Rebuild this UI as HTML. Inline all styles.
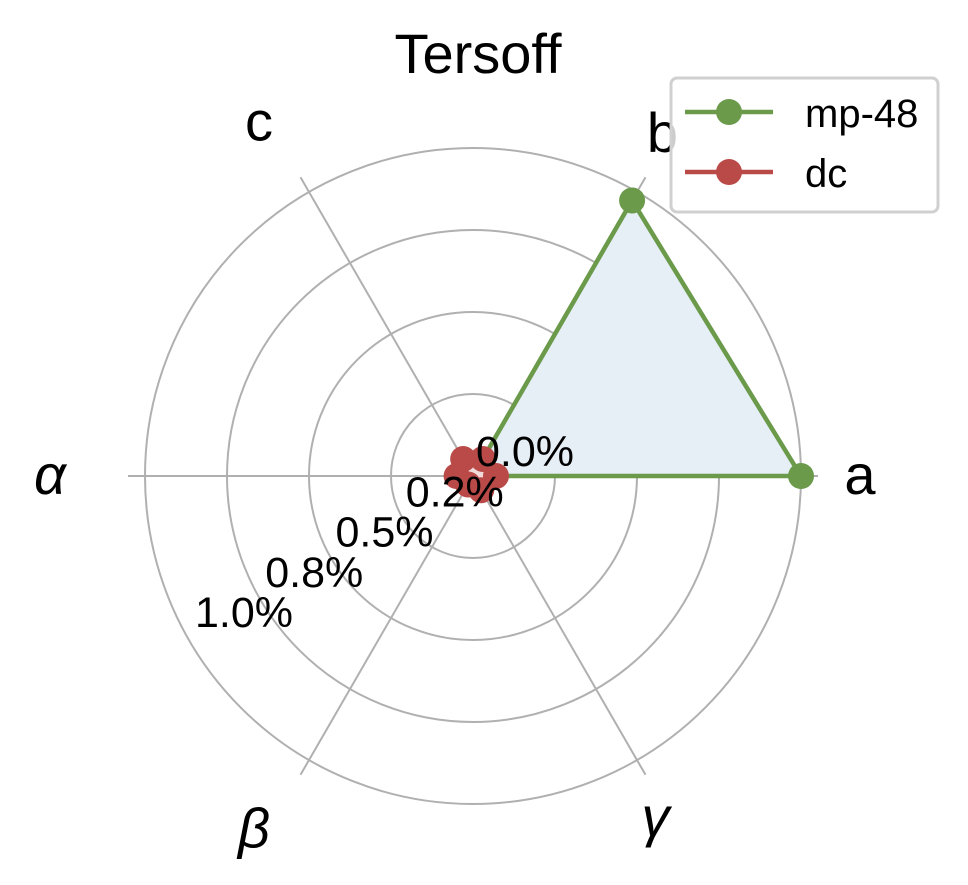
<!DOCTYPE html>
<html><head><meta charset="utf-8"><style>
html,body{margin:0;padding:0;background:#fff;}
svg{display:block;font-family:"Liberation Sans","DejaVu Sans",sans-serif;}
</style></head><body>
<svg id="chart" width="968" height="885" viewBox="0 0 968 885">
<text x="478" y="73" font-size="56" text-anchor="middle">Tersoff</text>
<g id="grid"></g><g id="series"></g><g id="labels"></g>
<g>
<rect x="671" y="78" width="267" height="134" rx="6" fill="#fff" fill-opacity="0.8" stroke="#d0d0d0" stroke-width="3"/>
<line x1="685" y1="112" x2="773" y2="112" stroke="#6a9a4a" stroke-width="4.5"/>
<circle cx="729" cy="112" r="13" fill="#6a9a4a"/>
<text x="805" y="127" font-size="40">mp-48</text>
<line x1="685" y1="172" x2="773" y2="172" stroke="#b94a48" stroke-width="4.5"/>
<circle cx="729" cy="172" r="13" fill="#b94a48"/>
<text x="805" y="187" font-size="40">dc</text>
</g>
</svg>
<script>
const categories = ["a","b","c","\u03b1","\u03b2","\u03b3"];
const mp48Values = [1.0, 0.97, 0, 0, 0, 0];
const dcValues = [0.07, 0.06, 0.06, 0.05, 0.03, 0.05];
const ringValues = [0.25, 0.5, 0.75, 1.0];
const tickValues = [0, 0.25, 0.5, 0.75, 1.0];
const tickLabels = ["0.0%","0.2%","0.5%","0.8%","1.0%"];

const NS="http://www.w3.org/2000/svg";
const cx=473, cy=476, R=328, spokeR=345;
const labelDx=[-8,-8,-10,-3,-15,-15];
function rScale(v){return v*R;}
function angle(i){return i*Math.PI*2/categories.length;}
function pt(i,v){const a=angle(i);return [cx+rScale(v)*Math.cos(a), cy-rScale(v)*Math.sin(a)];}
function mk(tag,attrs,parent){const e=document.createElementNS(NS,tag);for(const k in attrs)e.setAttribute(k,attrs[k]);parent.appendChild(e);return e;}
const grid=document.getElementById('grid'),series=document.getElementById('series'),labels=document.getElementById('labels');
ringValues.forEach((v,i)=>{
  const c=mk('circle',{cx:cx,cy:cy,r:rScale(v),fill:'none',stroke:'#b0b0b0','stroke-width':2},grid);
  
  
});
categories.forEach((c,i)=>{
  const a=angle(i);
  const l=mk('line',{x1:cx,y1:cy,x2:cx+spokeR*Math.cos(a),y2:cy-spokeR*Math.sin(a),stroke:'#b0b0b0','stroke-width':2},grid);
  
  
  const lr=(i===3)?420:(i===2||i===4)?408:395;
  const t=mk('text',{x:cx+lr*Math.cos(a)+labelDx[i],y:cy-lr*Math.sin(a)+18,'font-size':56,'text-anchor':'middle'},labels);
  if(i>=3)t.setAttribute('font-style','italic');
  t.textContent=c;
  
  
});
tickValues.forEach((v,i)=>{
  const t=mk('text',{x:476-281*v,y:466+161*v,'font-size':43},labels);
  t.textContent=tickLabels[i];
  
  
});
function drawSeries(vals,color,name,fill){
  const pts=vals.map((v,i)=>pt(i,v));
  const d=pts.map(p=>p.join(',')).join(' ');
  if(fill){const f=mk('polygon',{points:d,fill:fill,stroke:'none'},series);
    
    }
  const l=mk('polygon',{points:d,fill:'none',stroke:color,'stroke-width':4.5,'stroke-linejoin':'round'},series);
  
  
  pts.forEach((p,i)=>{
    const c=mk('circle',{cx:p[0],cy:p[1],r:13,fill:color},series);
    
    
  });
}
drawSeries(mp48Values,'#6a9a4a','mp-48','#e6eef6');
drawSeries(dcValues,'#b94a48','dc','#f0dada');
</script>
</body></html>
